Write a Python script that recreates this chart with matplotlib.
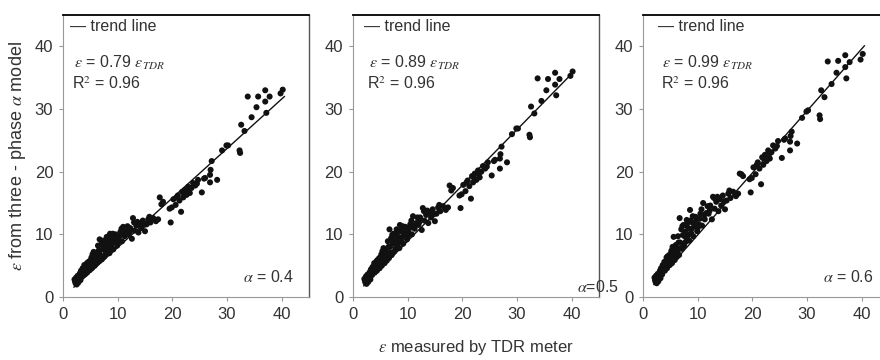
import matplotlib
matplotlib.use("Agg")
import matplotlib.pyplot as plt

plt.rcParams['font.family'] = ['Liberation Sans', 'DejaVu Sans']
plt.rcParams['mathtext.fontset'] = 'stix'

# measured by TDR meter (same samples in every panel)
x_tdr = [2.1, 2.3, 2.4, 2.5, 2.6, 2.7, 2.8, 3.0, 3.1, 3.2, 3.3, 3.5, 3.6, 3.7, 3.9,
         4.0, 4.1, 4.3, 4.4, 4.6, 4.8, 4.9, 5.0, 5.2, 5.3, 5.5, 5.6, 5.8, 5.9, 6.0,
         6.2, 6.3, 6.5, 6.6, 6.7, 6.9, 7.0, 7.1, 7.3, 7.4, 7.5, 7.7, 7.8, 8.0, 8.1,
         8.3, 8.5, 8.6, 8.8, 9.0, 9.2, 9.4, 9.6, 9.9, 10.2, 10.5, 10.8, 11.0, 11.3, 11.6,
         12.0, 12.3, 12.6, 12.8, 13.1, 13.4, 13.8, 14.0, 14.3, 14.6, 15.0, 15.3, 15.6, 16.0, 16.5,
         17.0, 17.4, 17.7, 18.0, 18.3, 19.7, 19.9, 20.2, 20.6, 21.0, 21.3, 21.6, 21.8, 22.0, 22.3,
         22.6, 22.9, 23.2, 23.5, 23.8, 24.2, 24.7, 25.4, 25.8, 26.9, 26.9, 27.0, 27.2, 28.2, 29.1,
         29.9, 30.2, 32.3, 32.4, 32.6, 33.2, 33.8, 34.5, 35.4, 35.7, 37.0, 37.0, 37.2, 37.8, 39.8,
         40.2,
         2.2, 2.9, 3.4, 3.8, 4.2, 4.5, 4.7, 5.1, 5.4, 5.7, 6.1, 6.4, 6.8, 7.2, 7.6,
         7.9, 8.2, 8.4, 8.7, 8.9, 9.1, 9.5, 9.8, 10.0, 10.4, 10.7, 11.2, 11.8, 12.2, 13.0,
         13.6, 14.8, 15.8, 19.5, 20.8, 22.1, 23.0, 24.5, 26.0]

# from three-phase model, alpha = 0.4
y_a04 = [2.8, 2.2, 3.1, 2.0, 2.6, 3.4, 2.3, 3.0, 3.8, 2.7, 4.2, 3.3, 4.6, 3.9, 5.1,
         3.6, 4.4, 5.3, 3.9, 4.9, 5.7, 4.3, 5.2, 6.3, 4.6, 5.6, 7.2, 5.0, 6.4, 7.0,
         5.4, 6.1, 7.4, 5.7, 9.2, 6.6, 8.4, 6.0, 7.7, 9.0, 6.4, 8.1, 6.9, 9.6, 7.3,
         8.6, 7.0, 10.1, 8.0, 9.3, 7.6, 8.8, 10.0, 8.2, 9.1, 10.4, 8.9, 11.2, 9.7, 10.5,
         10.0, 11.0, 9.3, 12.6, 10.6, 11.4, 10.3, 11.7, 11.0, 12.2, 10.5, 11.6, 12.4, 11.9, 12.6,
         12.1, 12.4, 15.9, 14.8, 15.2, 11.9, 14.3, 15.6, 14.7, 16.2, 15.4, 13.6, 16.8, 15.9, 17.1,
         16.3, 17.6, 16.6, 17.4, 18.2, 17.8, 18.7, 16.7, 18.9, 19.5, 18.3, 20.3, 21.7, 18.7, 23.4,
         24.2, 24.2, 23.4, 23.0, 27.5, 26.5, 32.0, 28.7, 30.3, 32.0, 33.0, 31.2, 29.4, 32.0, 32.5,
         33.1,
         2.5, 2.8, 3.7, 4.5, 4.0, 5.5, 4.6, 5.9, 6.8, 6.2, 6.6, 8.2, 7.4, 8.8, 7.6,
         8.9, 9.3, 7.8, 9.5, 8.5, 10.1, 9.2, 9.7, 8.6, 9.8, 10.9, 10.2, 11.3, 10.4, 11.9,
         12.0, 11.5, 12.8, 14.1, 15.9, 16.6, 17.0, 18.1, 19.0]

# alpha = 0.5
y_a05 = [2.9, 2.3, 3.3, 2.1, 2.7, 3.6, 2.4, 3.2, 4.0, 2.8, 4.4, 3.5, 4.8, 4.1, 5.4,
         3.9, 4.8, 5.7, 4.2, 5.3, 6.2, 4.6, 5.6, 6.8, 5.0, 6.0, 7.8, 5.4, 6.9, 7.6,
         5.8, 6.6, 8.0, 6.2, 10.8, 7.1, 9.4, 6.7, 8.6, 10.1, 7.2, 9.1, 7.7, 10.8, 8.2,
         9.6, 7.8, 11.5, 9.0, 10.4, 8.5, 9.9, 11.2, 9.2, 10.2, 11.6, 10.0, 12.9, 10.9, 11.8,
         11.5, 12.7, 10.7, 14.2, 12.2, 13.1, 11.8, 13.5, 12.7, 14.0, 12.1, 13.3, 14.3, 13.7, 14.5,
         13.9, 14.3, 17.8, 17.0, 17.4, 14.2, 16.4, 17.9, 16.9, 18.6, 17.7, 15.7, 19.3, 18.3, 19.7,
         18.7, 20.2, 19.1, 20.0, 20.9, 20.5, 21.5, 19.4, 21.7, 22.1, 20.5, 22.8, 24.0, 21.5, 26.0,
         26.9, 26.9, 25.9, 25.5, 30.4, 29.3, 34.9, 31.3, 33.0, 34.8, 35.8, 33.9, 32.2, 34.8, 35.3,
         36.0,
         2.6, 2.9, 3.9, 4.7, 4.3, 5.9, 5.0, 6.4, 7.3, 6.7, 7.1, 8.9, 8.0, 9.9, 8.5,
         10.0, 10.4, 8.7, 10.6, 9.5, 11.3, 10.3, 10.9, 9.6, 11.0, 12.2, 11.4, 12.7, 12.0, 13.7,
         13.8, 13.2, 14.7, 16.2, 18.3, 19.1, 19.6, 20.8, 21.9]

# alpha = 0.6
y_a06 = [3.1, 2.4, 3.4, 2.2, 2.9, 3.7, 2.5, 3.3, 4.2, 3.0, 4.6, 3.6, 5.1, 4.3, 5.6,
         4.2, 5.2, 6.3, 4.6, 5.8, 6.7, 5.1, 6.1, 7.4, 5.4, 6.6, 9.6, 5.9, 7.6, 8.3,
         6.4, 7.2, 8.7, 6.7, 12.6, 7.8, 10.8, 7.7, 9.9, 11.5, 8.2, 10.4, 8.8, 12.3, 9.3,
         11.0, 9.0, 13.9, 10.2, 11.9, 9.7, 11.3, 12.8, 10.5, 11.6, 13.3, 11.4, 15.0, 12.4, 13.4,
         13.3, 14.6, 12.4, 16.0, 14.1, 15.2, 13.7, 15.6, 14.6, 16.2, 14.0, 15.4, 16.5, 15.8, 16.8,
         16.1, 16.5, 19.7, 19.6, 19.3, 16.7, 19.0, 20.7, 19.6, 21.5, 20.5, 18.0, 22.3, 21.1, 22.7,
         21.7, 23.4, 22.1, 23.1, 24.2, 23.7, 24.9, 22.2, 25.1, 24.8, 23.4, 25.7, 26.4, 24.5, 28.6,
         29.6, 29.8, 29.0, 28.4, 33.0, 31.9, 37.6, 34.0, 35.8, 37.7, 38.6, 36.7, 34.9, 37.5, 37.9,
         38.8,
         2.7, 3.1, 4.1, 5.0, 4.7, 6.5, 5.4, 7.0, 8.0, 7.3, 7.8, 9.7, 8.7, 11.3, 9.7,
         11.4, 11.9, 10.0, 12.2, 10.9, 12.9, 11.8, 12.4, 11.0, 12.5, 14.0, 13.1, 14.5, 13.8, 15.8,
         16.0, 15.3, 17.0, 18.8, 21.1, 22.1, 22.6, 24.1, 25.3]

series = [y_a04, y_a05, y_a06]
slopes = [0.79, 0.89, 0.99]
alpha_labels = [r'$\alpha$ = 0.4', r'$\alpha$=0.5', r'$\alpha$ = 0.6']
trend_x = [2.0, 40.5]

fig = plt.figure(figsize=(8.8, 3.6), dpi=100)
lefts = [0.0716, 0.401, 0.7307]
txt_dx = [1.2, 2.1, 2.7]
grey = '#333333'

for i, ys in enumerate(series):
    ax = fig.add_axes([lefts[i], 0.175, 0.2795, 0.783])
    ax.scatter(x_tdr, ys, s=19, color='#111111', edgecolors='none', zorder=3)
    ax.plot(trend_x, [slopes[i] * v for v in trend_x], color='#111111', lw=1.0, zorder=2)

    ax.set_xlim(0, 45)
    ax.set_ylim(0, 45)
    ax.set_xticks([0, 10, 20, 30, 40])
    ax.set_yticks([0, 10, 20, 30, 40])
    ax.tick_params(length=3, width=0.8, color='#999999', labelsize=12,
                   labelcolor=grey, pad=4)

    ax.spines['top'].set_color('black')
    ax.spines['top'].set_linewidth(1.3)
    ax.spines['right'].set_color('#555555')
    ax.spines['right'].set_linewidth(1.0)
    ax.spines['left'].set_color('#999999')
    ax.spines['bottom'].set_color('#999999')

    dx = txt_dx[i]
    ax.text(dx, 43.2, '— trend line', fontsize=11.5, color=grey, va='center')
    ax.text(dx + 0.8, 37.4, r'$\varepsilon$ = %.2f $\varepsilon_{TDR}$' % slopes[i],
            fontsize=11.5, color=grey, va='center')
    ax.text(dx + 0.5, 34.1, r'R$^2$ = 0.96', fontsize=11.5, color=grey, va='center')

    if i == 1:
        ax.text(41.0, 1.6, alpha_labels[i], fontsize=11.5, color=grey,
                ha='left', va='center', clip_on=False)
    else:
        ax.text(42.2, 3.2, alpha_labels[i], fontsize=11.5, color=grey,
                ha='right', va='center')

    if i == 0:
        ax.set_ylabel(r'$\varepsilon$ from three - phase $\alpha$ model',
                      fontsize=13, color=grey, labelpad=5)
    if i == 1:
        ax.set_xlabel(r'$\varepsilon$ measured by TDR meter',
                      fontsize=12, color=grey, labelpad=12)

fig.savefig('out.png', dpi=100)
